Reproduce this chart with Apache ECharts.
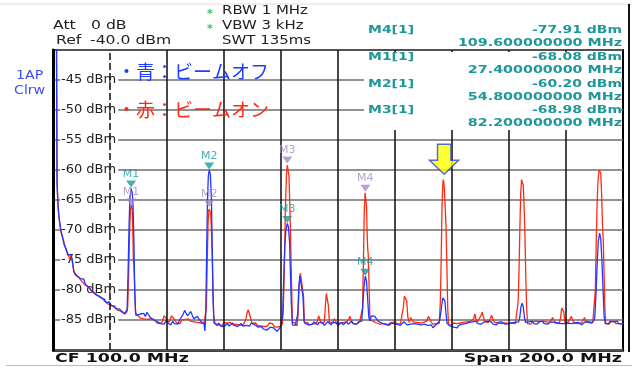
<!DOCTYPE html>
<html><head><meta charset="utf-8">
<script src="https://cdn.jsdelivr.net/npm/echarts@6/dist/echarts.min.js"></script>
<style>html,body{margin:0;padding:0;background:#fff}#c{width:632px;height:369px}</style>
</head><body><div id="c"></div>
<script>
// frequency (MHz), level (dBm) — beam off (blue)
const blueTrace = [[0,-30],[1.2,-36],[1.4,-62],[1.7,-65.5],[2.2,-68.2],[2.8,-70.1],[3.4,-71.4],[4.0,-72.6],[4.6,-73.1],[5.2,-74.2],[5.8,-74.5],[6.3,-74.1],[6.8,-75.0],[7.3,-77.0],[7.8,-77.3],[8.4,-77.6],[9.0,-77.5],[9.6,-78.1],[10.2,-78.4],[10.8,-78.2],[11.4,-79.1],[12.0,-79.0],[12.6,-79.6],[13.2,-80.0],[13.8,-79.8],[14.4,-80.4],[15.0,-80.5],[15.6,-80.9],[16.2,-80.7],[16.8,-81.3],[17.4,-81.6],[18.0,-81.5],[18.6,-82.1],[19.2,-82.2],[19.8,-82.0],[20.4,-82.6],[21.0,-82.8],[21.6,-82.7],[22.2,-83.1],[22.8,-83.3],[23.4,-83.2],[24.0,-83.6],[24.6,-83.5],[25.2,-84.0],[25.7,-84.3],
[26.0,-83.5],[26.3,-78],[26.7,-69],[27.0,-64.5],[27.4,-63.1],[27.8,-63.8],[28.1,-66],[28.4,-72],[28.7,-81],[29.0,-83.8],
[29.5,-84.2],[30.0,-84.5],[30.6,-84.0],[31.2,-84.3],[31.8,-83.9],[32.4,-84.4],[33.0,-83.7],[33.6,-84.2],[34.2,-84.6],[34.8,-84.4],[35.4,-85.0],[36.0,-84.8],[36.6,-85.3],[37.2,-85.2],[37.8,-85.6],[38.4,-85.4],[39.0,-85.7],[39.6,-85.1],[40.2,-85.5],[40.8,-85.3],[41.4,-85.8],[42.0,-85.2],[42.6,-85.6],[43.2,-85.4],[43.8,-85.7],[44.4,-85.0],[45.0,-84.8],[45.6,-84.1],[46.2,-83.4],[46.7,-83.2],[47.2,-84.3],[47.8,-84.6],[48.3,-83.6],[48.8,-83.5],[49.4,-84.8],[50.0,-85.0],[50.6,-84.4],[51.2,-84.6],[51.8,-85.2],[52.4,-85.4],[53.0,-85.6],[53.3,-86.8],
[53.6,-84],[53.9,-74],[54.2,-65],[54.5,-61],[54.8,-60.0],[55.2,-60.6],[55.6,-65],[55.9,-74],[56.2,-82],[56.5,-85.5],
[57.0,-85.6],[57.6,-85.9],[58.2,-85.5],[58.8,-86.0],[59.4,-85.7],[60.0,-86.1],[60.6,-85.8],[61.2,-85.6],[61.8,-86.0],[62.4,-85.7],[63.0,-85.5],[63.6,-85.9],[64.2,-85.6],[64.8,-86.1],[65.4,-85.8],[66.0,-85.6],[66.6,-86.0],[67.2,-85.7],[67.8,-85.9],[68.4,-85.6],[69.0,-86.0],[69.6,-85.5],[70.2,-85.2],[70.8,-85.8],[71.4,-86.0],[72.0,-86.2],[72.6,-86.4],[73.2,-86.1],[73.8,-86.5],[74.4,-86.3],[75.0,-86.7],[75.6,-86.4],[76.2,-86.2],[76.8,-86.0],[77.4,-86.3],[78.0,-86.6],[78.6,-86.9],[79.2,-86.7],[79.8,-86.2],[80.3,-86.0],
[80.6,-84],[80.9,-79],[81.3,-73],[81.7,-70],[82.2,-68.9],[82.6,-69.5],[83.0,-72],[83.3,-77],[83.6,-82],[84.0,-85.8],
[84.5,-85.5],[85.0,-85.9],[85.5,-86.1],
[85.9,-84],[86.2,-80],[86.6,-77.6],[87.0,-77.4],[87.3,-77.9],[87.7,-81],[88.1,-85.2],
[88.6,-85.6],[89.2,-85.4],[89.8,-85.8],[90.4,-85.5],[91.0,-85.7],[91.6,-85.3],[92.2,-85.6],[92.8,-85.8],[93.4,-85.4],[94.0,-85.7],[94.6,-85.5],[95.2,-85.9],[95.8,-85.6],[96.4,-85.3],[97.0,-85.5],[97.6,-85.8],[98.2,-85.4],[98.8,-85.7],[99.4,-85.5],[100.0,-85.9],[100.6,-85.6],[101.2,-85.4],[101.8,-85.8],[102.4,-85.6],[103.0,-85.3],[103.6,-85.7],[104.2,-85.5],[104.8,-85.2],[105.4,-85.6],[106.0,-85.4],[106.6,-85.7],[107.2,-85.3],[107.8,-85.5],[108.3,-85.2],
[108.6,-83.5],[108.9,-81],[109.2,-79],[109.6,-77.7],[110.0,-78.5],[110.4,-81.5],[110.8,-84.5],[111.2,-85.2],
[111.7,-84.3],[112.3,-84.0],[112.9,-84.4],[113.5,-84.8],[114.1,-85.2],[114.7,-85.0],[115.3,-85.5],[115.9,-85.3],[116.5,-85.7],[117.1,-85.6],[117.7,-85.9],[118.3,-85.5],[118.9,-85.8],[119.5,-85.6],[120.1,-85.3],[120.7,-85.7],[121.3,-85.5],[121.9,-85.9],[122.5,-85.6],[123.1,-85.3],[123.7,-85.6],[124.3,-85.8],[124.9,-85.5],[125.5,-85.7],[126.1,-85.4],[126.7,-85.6],[127.3,-85.3],[127.9,-85.7],[128.5,-85.4],[129.1,-85.8],[129.7,-85.5],[130.3,-85.7],[130.9,-85.4],[131.5,-85.9],[132.1,-86.1],[132.7,-85.8],[133.3,-86.3],[133.9,-86.1],[134.5,-85.7],[135.1,-85.4],[135.6,-85.2],
[136.0,-84],[136.4,-82.5],[136.8,-81.3],[137.1,-81.0],[137.5,-81.8],[137.9,-84],[138.3,-85.6],
[138.8,-85.8],[139.4,-86.0],[140.0,-85.7],[140.6,-86.2],[141.2,-86.0],[141.8,-86.3],[142.4,-85.9],[143.0,-86.1],[143.6,-85.7],[144.2,-85.9],[144.8,-85.6],[145.4,-85.8],[146.0,-85.4],[146.6,-85.7],[147.2,-85.3],[147.8,-85.5],[148.4,-85.2],[149.0,-85.6],[149.6,-85.4],[150.2,-85.7],[150.8,-85.5],[151.4,-85.3],[152.0,-85.6],[152.6,-85.2],[153.2,-85.5],[153.8,-85.3],[154.4,-85.7],[155.0,-85.5],[155.6,-85.8],[156.2,-85.4],[156.8,-85.6],[157.4,-85.3],[158.0,-85.5],[158.6,-85.7],[159.2,-85.4],[159.8,-85.6],[160.4,-85.8],[161.0,-85.5],[161.6,-85.7],[162.2,-85.4],[162.8,-85.6],[163.4,-85.3],
[163.8,-84.5],[164.2,-82.8],[164.6,-82.2],[165.0,-82.8],[165.4,-84.5],[165.8,-85.4],
[166.3,-85.6],[166.9,-85.3],[167.5,-85.5],[168.1,-85.2],[168.7,-85.6],[169.3,-85.4],[169.9,-85.7],[170.5,-85.3],[171.1,-85.5],[171.7,-85.2],[172.3,-85.6],[172.9,-85.4],[173.5,-85.7],[174.1,-85.5],[174.7,-85.3],[175.3,-85.6],[175.9,-85.4],[176.5,-85.2],[177.1,-85.5],[177.7,-85.3],[178.3,-85.6],[178.9,-85.4],[179.5,-85.6],[180.1,-85.9],[180.7,-85.5],[181.3,-85.3],[181.9,-85.6],[182.5,-85.8],[183.1,-85.5],[183.7,-85.7],[184.3,-85.4],[184.9,-85.6],[185.5,-85.8],[186.1,-85.5],[186.7,-85.3],[187.3,-85.6],[187.9,-85.4],[188.5,-85.2],[189.1,-85.5],[189.7,-85.1],[190.1,-84.6],
[190.5,-81],[190.9,-76],[191.3,-72],[191.8,-70.5],[192.2,-71.5],[192.6,-75],[193.0,-80],[193.4,-84.5],[193.8,-85.6],
[194.3,-85.3],[194.9,-85.6],[195.5,-85.2],[196.1,-84.9],[196.7,-85.3],[197.3,-85.5],[197.9,-85.2],[198.5,-85.6],[199.1,-85.4],[199.7,-85.7],[200,-85.5]];

// beam on (red)
const redTrace = [[0,-30],[1.2,-36],[1.45,-62],[1.8,-66.5],[2.3,-68.8],[2.8,-70.4],[3.4,-71.2],[4.0,-72.3],[4.6,-73.4],[5.2,-73.9],[5.8,-74.8],[6.3,-74.4],[6.8,-75.4],[7.3,-76.8],[7.8,-77.5],[8.4,-77.3],[9.0,-77.9],[9.6,-77.8],[10.2,-78.6],[10.8,-78.5],[11.4,-79.2],[12.0,-79.4],[12.6,-79.5],[13.2,-79.9],[13.8,-80.3],[14.4,-80.2],[15.0,-80.8],[15.6,-80.6],[16.2,-81.0],[16.8,-81.2],[17.4,-81.4],[18.0,-81.8],[18.6,-81.9],[19.2,-82.3],[19.8,-82.2],[20.4,-82.5],[21.0,-82.6],[21.6,-82.9],[22.2,-83.0],[22.8,-83.4],[23.4,-83.3],[24.0,-83.5],[24.6,-83.8],[25.2,-83.9],[25.8,-84.2],
[26.2,-83],[26.5,-78],[26.9,-70],[27.2,-66.5],[27.5,-65.8],[27.8,-66.5],[28.0,-70],[28.2,-75],[28.4,-76],[28.7,-80],[29.0,-84.2],
[29.5,-84.5],[30.0,-84.3],[30.6,-84.7],[31.2,-84.4],[31.8,-84.8],[32.4,-84.5],[33.0,-84.9],[33.6,-84.6],[34.2,-84.8],[34.8,-85.1],[35.4,-84.9],[36.0,-85.2],[36.6,-85.5],[37.2,-85.3],[37.8,-85.6],[38.4,-85.2],[39.0,-84.3],[39.4,-84.0],[39.9,-84.8],[40.5,-85.4],[41.1,-85.0],[41.6,-84.3],[42.2,-84.0],[42.8,-85.0],[43.4,-85.5],[44.0,-85.2],[44.6,-85.6],[45.2,-85.0],[45.8,-84.7],[46.4,-84.9],[47.0,-85.1],[47.6,-84.8],[48.2,-85.2],[48.8,-84.9],[49.4,-85.3],[50.0,-85.0],[50.6,-85.4],[51.2,-85.1],[51.8,-85.5],[52.4,-85.2],[53.0,-85.6],[53.5,-85.3],
[53.8,-83],[54.1,-76],[54.4,-69],[54.7,-66.5],[55.0,-66.2],[55.3,-67],[55.6,-70],[55.9,-75],[56.1,-79.5],[56.4,-84.5],
[56.9,-85.6],[57.5,-85.4],[58.1,-85.8],[58.7,-85.6],[59.3,-85.9],[59.9,-85.5],[60.5,-85.8],[61.1,-85.5],[61.7,-85.7],[62.3,-85.4],[62.9,-85.8],[63.5,-85.5],[64.1,-85.7],[64.7,-85.4],[65.3,-85.8],[65.9,-85.6],[66.5,-85.9],[67.1,-85.5],[67.6,-85.0],[68.0,-84.0],[68.5,-83.3],[69.0,-83.5],[69.4,-84.8],[69.9,-85.6],[70.5,-85.8],[71.1,-85.5],[71.7,-85.9],[72.3,-85.6],[72.9,-86.0],[73.5,-85.7],[74.1,-86.1],[74.7,-85.8],[75.3,-86.0],[75.9,-85.5],[76.5,-85.2],[77.0,-85.6],[77.6,-86.1],[78.2,-85.8],[78.8,-86.2],[79.4,-85.9],[80.0,-86.0],[80.5,-85.6],
[80.8,-83],[81.2,-76],[81.5,-67],[81.9,-61],[82.2,-59.2],[82.5,-59.0],[82.8,-61],[83.1,-66],[83.4,-72],[83.7,-79],[84.0,-85.4],
[84.5,-85.7],[85.0,-85.5],[85.6,-86.0],
[86.0,-84],[86.4,-79],[86.8,-77.2],[87.2,-76.9],[87.5,-77.5],[87.9,-81],[88.2,-85.5],
[88.7,-85.7],[89.3,-85.4],[89.9,-85.8],[90.5,-85.5],[91.1,-85.7],[91.7,-85.4],[92.3,-85.6],[92.8,-85.2],[93.2,-84.3],[93.6,-84.5],[94.0,-85.4],[94.6,-85.7],[95.2,-85.4],[95.6,-82.5],[95.9,-80.6],[96.2,-80.5],[96.6,-82.5],[97.0,-85.4],[97.6,-85.7],[98.2,-85.4],[98.7,-84.8],[99.1,-85.0],[99.6,-85.6],[100.2,-85.8],[100.8,-85.5],[101.4,-85.7],[102.0,-85.4],[102.6,-85.6],[103.2,-85.3],[103.8,-84.8],[104.2,-84.4],[104.6,-85.2],[105.2,-85.6],[105.8,-85.4],[106.4,-85.7],[107.0,-85.5],[107.6,-85.3],[108.2,-85.5],
[108.6,-83],[108.9,-76],[109.2,-67],[109.5,-63.8],[109.7,-63.7],[110.0,-66],[110.2,-70],[110.4,-73],[110.6,-74],[110.9,-79],[111.2,-85],
[111.7,-84.8],[112.3,-85.2],[112.9,-85.0],[113.5,-85.5],[114.1,-85.3],[114.7,-85.7],[115.3,-85.4],[115.9,-85.6],[116.5,-85.3],[117.1,-85.7],[117.7,-85.5],[118.3,-85.8],[118.9,-85.4],[119.5,-85.6],[120.1,-85.3],[120.7,-85.7],[121.3,-85.5],[121.9,-85.6],[122.5,-85.3],[122.9,-83.0],[123.3,-81.0],[123.7,-80.8],[124.1,-81.8],[124.5,-84.5],[125.0,-85.4],[125.5,-84.6],[125.9,-84.3],[126.4,-85.3],[127.0,-85.6],[127.6,-85.4],[128.2,-85.7],[128.8,-85.5],[129.4,-85.8],[130.0,-85.4],[130.6,-85.6],[131.2,-85.2],[131.7,-84.4],[132.1,-84.2],[132.6,-85.2],[133.2,-85.7],[133.8,-85.9],[134.4,-85.6],[135.0,-85.4],[135.5,-85.6],
[135.9,-82],[136.2,-75],[136.5,-66],[136.8,-62],[137.0,-61.6],[137.3,-63],[137.6,-66],[137.9,-69.4],[138.2,-76],[138.5,-83],[138.8,-85.8],
[139.3,-85.6],[139.9,-85.9],[140.5,-85.5],[141.1,-85.8],[141.7,-85.6],[142.3,-85.9],[142.9,-85.5],[143.5,-85.7],[144.1,-85.4],[144.7,-85.6],[145.3,-85.3],[145.9,-85.5],[146.5,-85.2],[147.1,-85.4],[147.6,-84.8],[148.0,-84.0],[148.4,-84.8],[149.0,-85.3],[149.6,-85.0],[150.2,-84.2],[150.6,-83.7],[151.0,-84.5],[151.6,-85.3],[152.2,-85.0],[152.8,-85.4],[153.4,-84.8],[153.9,-84.2],[154.4,-85.0],[155.0,-85.4],[155.6,-85.1],[156.2,-85.5],[156.8,-85.2],[157.4,-85.6],[158.0,-85.3],[158.6,-85.5],[159.2,-85.2],[159.8,-85.6],[160.4,-85.3],[161.0,-85.5],[161.6,-85.2],[162.2,-85.6],[162.8,-85.4],
[163.2,-82],[163.5,-77],[163.8,-70],[164.1,-64],[164.4,-61.6],[164.7,-61.4],[165.0,-62.5],[165.3,-66],[165.6,-71],[165.9,-78],[166.2,-83],[166.5,-85.6],
[167.0,-85.4],[167.6,-85.7],[168.2,-85.3],[168.8,-85.6],[169.4,-85.2],[170.0,-85.5],[170.6,-85.3],[171.2,-85.6],[171.8,-85.2],[172.4,-85.5],[173.0,-85.3],[173.6,-85.6],[174.2,-85.4],[174.8,-85.0],[175.3,-84.6],[175.8,-85.1],[176.4,-85.5],[177.0,-85.3],[177.6,-85.6],[178.1,-84.6],[178.5,-83.0],[178.8,-82.7],[179.2,-83.6],[179.6,-85.4],[180.2,-85.6],[180.8,-85.3],[181.4,-85.0],[181.9,-84.4],[182.4,-85.1],[183.0,-85.5],[183.6,-85.2],[184.2,-85.6],[184.8,-85.3],[185.4,-85.5],[186.0,-85.0],[186.5,-84.6],[187.0,-85.2],[187.6,-85.5],[188.2,-85.3],[188.8,-85.6],[189.4,-85.4],[189.9,-85.6],
[190.3,-80],[190.6,-72],[190.9,-66],[191.2,-62],[191.6,-60],[191.9,-59.8],[192.2,-60.5],[192.5,-64],[192.8,-69],[193.1,-72],[193.4,-78],[193.7,-84],[194.0,-85.6],
[194.5,-85.4],[195.1,-85.7],[195.7,-85.3],[196.3,-85.5],[196.9,-85.2],[197.5,-85.6],[198.1,-85.3],[198.7,-85.6],[199.3,-85.4],[200,-85.6]];

const xGridTicks = [20,40,60,80,100,120,140,160,180];
const yTickLabels = [-45,-50,-55,-60,-65,-70,-75,-80,-85];
const blueMarkers = [['M1',27.4,-63.0],['M2',54.8,-60.0],['M3',82.2,-68.9],['M4',109.6,-77.7]];
const redMarkers = [['M1',27.4,-66.0],['M2',54.8,-66.3],['M3',82.2,-59.0],['M4',109.6,-63.7]];
const arrowAt = [137.2,-60.7];
const markerTable = [
  ['M4[1]','-77.91 dBm','109.600000000 MHz'],
  ['M1[1]','-68.08 dBm','27.400000000 MHz'],
  ['M2[1]','-60.20 dBm','54.800000000 MHz'],
  ['M3[1]','-68.98 dBm','82.200000000 MHz']
];

const TEAL = '#1e9898', LILAC = '#a68bc4';
const chart = echarts.init(document.getElementById('c'), null, {renderer:'canvas'});

function txt(t, x, y, opts) {
  return {type:'text', x:x, y:y, z:20, scaleX: opts.sx || 1,
    style:{text:t, x:0, y:0, font: opts.font, fill: opts.fill || '#222',
      align: opts.align || 'left', verticalAlign:'middle'}};
}
const F = '"DejaVu Sans"';
const graphics = [
  {type:'line', z:20, shape:{x1:0,y1:4,x2:632,y2:4}, style:{stroke:'#dcdcdc', lineWidth:1}},
  {type:'line', z:20, shape:{x1:6,y1:365.5,x2:632,y2:365.5}, style:{stroke:'#bbbbbb', lineWidth:1}},
  {type:'line', z:20, shape:{x1:629,y1:4,x2:629,y2:352}, style:{stroke:'#111', lineWidth:2}},
  {type:'rect', z:10, shape:{x:364,y:52,width:257,height:78}, style:{fill:'#fff'}},
  txt('Att', 53, 26, {font:'11.5px '+F, sx:1.36}),
  txt('0 dB', 91, 26, {font:'11.5px '+F, sx:1.36}),
  txt('Ref', 56, 41, {font:'11.5px '+F, sx:1.36}),
  txt('-40.0 dBm', 90, 41, {font:'11.5px '+F, sx:1.36}),
  txt('*', 207, 14, {font:'bold 11px '+F, fill:'#22cc55'}),
  txt('*', 207, 29, {font:'bold 11px '+F, fill:'#22cc55'}),
  txt('RBW 1 MHz', 222, 11, {font:'11.5px '+F, sx:1.3}),
  txt('VBW 3 kHz', 222, 26, {font:'11.5px '+F, sx:1.3}),
  txt('SWT 135ms', 222, 41, {font:'11.5px '+F, sx:1.3}),
  txt('1AP', 16, 76, {font:'11.5px '+F, sx:1.23, fill:'#3c4ef2'}),
  txt('Clrw', 14, 91, {font:'11.5px '+F, sx:1.23, fill:'#3c4ef2'}),
  txt('・青：ビームオフ', 117, 72, {font:'19px "Noto Sans CJK JP"', fill:'#1f3cff'}),
  txt('・赤：ビームオン', 117, 110, {font:'19px "Noto Sans CJK JP"', fill:'#ff2a14'}),
  txt('CF 100.0 MHz', 55, 359, {font:'bold 12px '+F, sx:1.45, fill:'#111'}),
  txt('Span 200.0 MHz', 622, 359, {font:'bold 12px '+F, sx:1.45, fill:'#111', align:'right'})
];
const rowY = [[30,43.5],[57,70],[84,97],[110,123.5]];
markerTable.forEach((r, i) => {
  graphics.push(txt(r[0], 368, rowY[i][0], {font:'bold 10.5px '+F, sx:1.33, fill:TEAL}));
  graphics.push(txt(r[1], 622, rowY[i][0], {font:'bold 10.5px '+F, sx:1.33, fill:TEAL, align:'right'}));
  graphics.push(txt(r[2], 622, rowY[i][1], {font:'bold 10.5px '+F, sx:1.36, fill:TEAL, align:'right'}));
});

const triPath = 'path://M0,0 L10,0 L5,7 Z';
function markerSeries(list, color) {
  return {
    type:'scatter', z:6, silent:true,
    data: list.map(m => ({name:m[0], value:[m[1], m[2]]})),
    symbol: triPath, symbolSize:[10,7], symbolOffset:[0,-4],
    itemStyle:{color:color},
    label:{show:true, position:'top', distance:1, formatter:'{b}', color:color,
      fontSize:11, fontFamily:'DejaVu Sans'}
  };
}

chart.setOption({
  animation:false,
  backgroundColor:'#fff',
  grid:{left:53, right:9, top:50, bottom:19, show:true, borderColor:'#000', borderWidth:2, backgroundColor:'transparent'},
  xAxis:{type:'value', min:0, max:200, interval:20,
    axisLabel:{show:false}, axisTick:{show:false},
    axisLine:{show:true, lineStyle:{color:'#000', width:2.5}},
    splitLine:{show:false}},
  yAxis:{type:'value', min:-90, max:-40, interval:5, z:2,
    axisTick:{show:false},
    axisLine:{show:true, lineStyle:{color:'#000', width:3}},
    splitLine:{show:true, lineStyle:{color:'#6e6e6e', width:1.5}},
    axisLabel:{inside:true, margin:7, color:'#222', fontSize:13, fontFamily:'DejaVu Sans',
      backgroundColor:'#fff', padding:[0,2,0,1],
      formatter: v => yTickLabels.indexOf(v) >= 0 ? v + ' dBm' : ''}},
  graphic: graphics,
  series:[
    {type:'line', z:1, silent:true, data:[], showSymbol:false,
      markLine:{silent:true, symbol:['none','none'], label:{show:false},
        data: xGridTicks.map(v => ({xAxis:v, lineStyle:{color:'#1a1a1a', width:1.6, type: v===20 ? [7,3] : 'solid'}}))}},
    {name:'赤', type:'line', z:3, data:redTrace, showSymbol:false, smooth:false,
      lineStyle:{color:'#ff2a10', width:1.3}},
    {name:'青', type:'line', z:4, data:blueTrace, showSymbol:false, smooth:false,
      lineStyle:{color:'#2236ff', width:1.3}},
    markerSeries(redMarkers, LILAC),
    markerSeries(blueMarkers, TEAL),
    {type:'scatter', z:7, silent:true, data:[arrowAt],
      symbol:'path://M8,0 L21.4,0 L21.4,16 L29,16 L14.7,30 L0,16 L8,16 Z',
      symbolSize:[29,30], symbolOffset:[0,-15],
      itemStyle:{color:'#ffff00', borderColor:'#2a48d8', borderWidth:1.5}}
  ]
});
</script></body></html>
